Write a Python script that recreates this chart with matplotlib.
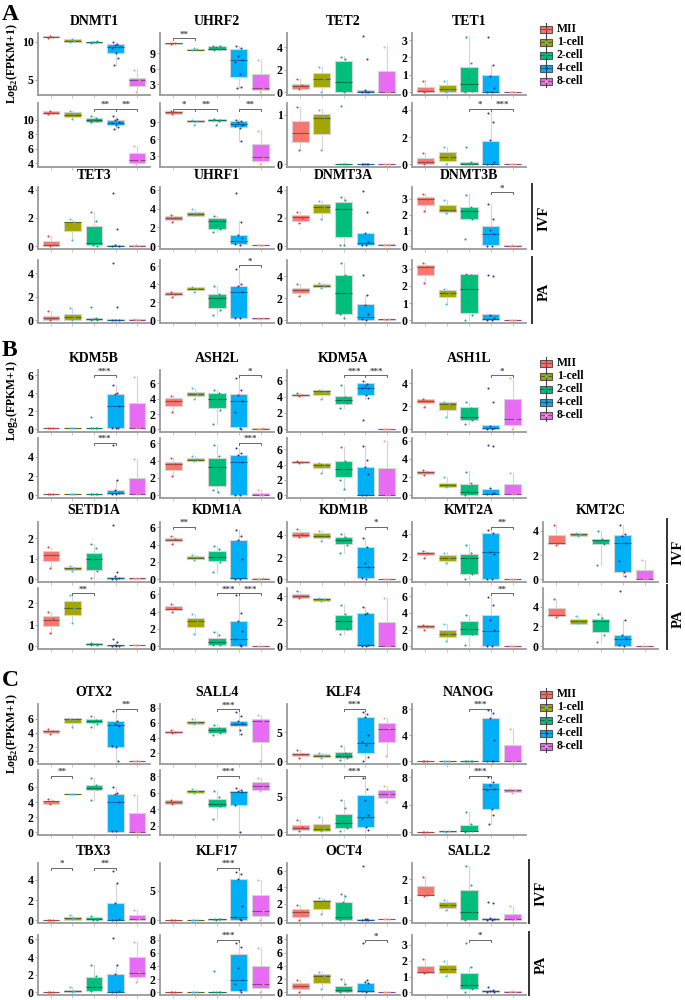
import matplotlib
matplotlib.use('Agg')
import matplotlib.pyplot as plt
import matplotlib.colors as mcolors
from matplotlib.patches import Rectangle
import numpy as np

plt.rcParams['font.family'] = ['Liberation Serif', 'DejaVu Serif']
plt.rcParams['font.weight'] = 'bold'
plt.rcParams['mathtext.fontset'] = 'custom'
plt.rcParams['mathtext.rm'] = 'Liberation Serif:bold'
plt.rcParams['mathtext.bf'] = 'Liberation Serif:bold'

GROUPS = ['MII', '1-cell', '2-cell', '4-cell', '8-cell']
FILL = ['#F8766D', '#A3A500', '#00BF7D', '#00B0F6', '#E76BF3']
DOTS = ['#E53B36', '#3CBDE6', '#15A077', '#2D3C8E', '#F5A07E']

# box = (whisker low, q1, median, q3, whisker high) per group; pts = samples per group
# sig = (group i, group j, bracket y, label)

# ---------------- A ----------------
DNMT1_IVF = dict(
    box=[(10.5, 10.55, 10.6, 10.7, 10.75), (9.9, 10.0, 10.1, 10.3, 10.3), (9.8, 9.85, 9.9, 10.0, 10.1),
         (7.0, 8.5, 9.35, 9.7, 9.9), (3.4, 4.2, 5.0, 5.3, 6.4)],
    pts=[[10.5, 10.6, 10.7], [9.9, 10.1, 10.3], [9.8, 9.9, 10.0, 10.1, 9.9],
         [9.9, 9.7, 9.6, 9.3, 9.1, 8.5, 7.8, 7.0], [6.3, 5.0, 3.4]],
    ticks=[5, 10], sig=[])
DNMT1_PA = dict(
    box=[(10.8, 10.8, 10.9, 11.1, 11.1), (10.1, 10.35, 10.6, 11.0, 11.2), (9.6, 9.7, 10.0, 10.2, 10.5),
         (8.7, 9.25, 9.5, 9.9, 10.5), (3.9, 4.1, 4.45, 5.4, 6.45)],
    pts=[[10.8, 10.9, 11.1], [11.2, 10.7, 10.1], [10.5, 10.2, 10.0, 9.8, 9.6],
         [10.5, 10.1, 9.9, 9.6, 9.5, 9.3, 9.0, 8.7], [6.4, 4.45, 3.9]],
    ticks=[4, 6, 8, 10], sig=[(3, 4, 11.5, '**'), (4, 5, 11.5, '**')])
UHRF2_IVF = dict(
    box=[(10.7, 10.7, 10.85, 11.0, 11.0), (9.5, 9.5, 9.65, 9.8, 9.9), (9.6, 9.6, 9.8, 10.4, 10.4),
         (2.3, 4.5, 7.7, 9.75, 10.4), (1.5, 1.9, 2.4, 5.0, 7.6)],
    pts=[[10.7, 10.85, 11.0], [9.5, 9.7, 9.9], [9.6, 9.8, 10.1, 10.3, 10.4],
         [10.4, 9.9, 8.5, 7.7, 7.2, 5.0, 2.6, 2.3], [7.6, 2.4, 1.5]],
    ticks=[3, 6, 9], sig=[(1, 2, 11.8, '**')])
UHRF2_PA = dict(
    box=[(10.5, 10.6, 10.8, 11.05, 11.1), (8.5, 9.05, 9.3, 9.5, 9.5), (8.5, 9.2, 9.4, 9.65, 9.7),
         (5.6, 8.2, 8.7, 9.35, 9.6), (1.5, 2.0, 2.8, 5.2, 7.6)],
    pts=[[11.0, 10.8, 10.5], [9.4, 9.2, 8.5], [9.6, 9.3, 8.5, 9.5, 9.4],
         [9.5, 9.3, 9.0, 8.6, 8.3, 8.0, 5.6], [7.5, 2.7, 1.5]],
    ticks=[3, 6, 9], sig=[(1, 2, 11.5, '*'), (2, 3, 11.5, '**'), (4, 5, 11.5, '**')])
TET2_IVF = dict(
    box=[(0.25, 0.25, 0.58, 0.74, 1.17), (0.0, 0.49, 1.17, 1.72, 2.27), (0.0, 0.05, 0.9, 2.76, 3.18),
         (0.0, 0.0, 0.05, 0.15, 0.2), (0.0, 0.0, 0.0, 1.88, 4.06)],
    pts=[[1.15, 0.6, 0.28], [2.25, 1.2, 0.0], [3.15, 2.95, 1.8, 0.9, 0.2, 0.0],
         [5.0, 2.9, 0.15, 0.05, 0.0, 0.0], [4.05, 0.0, 0.0]],
    ticks=[0, 2, 4], sig=[])
TET2_PA = dict(
    box=[(0.28, 0.44, 0.63, 0.87, 1.15), (0.28, 0.61, 0.94, 1.02, 1.11), (0.0, 0.0, 0.0, 0.01, 0.02),
         (0.0, 0.0, 0.0, 0.01, 0.02), (0.0, 0.0, 0.0, 0.01, 0.01)],
    pts=[[1.15, 0.63, 0.28], [1.1, 0.95, 0.28], [1.18, 0.0, 0.0, 0.0, 0.0],
         [0.0, 0.0, 0.0, 0.0, 0.01], [0.0, 0.0, 0.0]],
    ticks=[0, 1], sig=[])
TET1_IVF = dict(
    box=[(0.0, 0.0, 0.05, 0.3, 0.68), (0.0, 0.0, 0.2, 0.42, 0.68), (0.0, 0.0, 0.47, 1.46, 3.25),
         (0.0, 0.0, 0.0, 1.0, 1.56), (0.0, 0.0, 0.0, 0.03, 0.05)],
    pts=[[0.65, 0.05, 0.0], [0.65, 0.15, 0.0], [3.2, 1.7, 0.8, 0.05, 0.0],
         [3.2, 1.55, 0.95, 0.25, 0.0, 0.0], [0.0, 0.02, 0.0]],
    ticks=[0, 1, 2, 3], sig=[])
TET1_PA = dict(
    box=[(0.0, 0.0, 0.15, 0.47, 0.83), (0.0, 0.24, 0.52, 0.88, 1.3), (0.0, 0.0, 0.05, 0.16, 0.2),
         (0.0, 0.0, 0.0, 1.73, 3.85), (0.0, 0.0, 0.0, 0.03, 0.05)],
    pts=[[0.8, 0.15, 0.0], [1.3, 0.55, 0.0], [1.3, 0.15, 0.05, 0.0, 0.0],
         [3.8, 3.1, 1.8, 0.2, 0.0, 0.0], [0.0, 0.02, 0.0]],
    ticks=[0, 2, 4], sig=[(3, 4, 4.1, '*'), (4, 5, 4.1, '***')])
TET3_IVF = dict(
    box=[(0.0, 0.0, 0.05, 0.35, 0.7), (0.42, 1.06, 1.7, 1.72, 1.88), (0.0, 0.1, 0.24, 1.41, 2.46),
         (0.0, 0.0, 0.02, 0.1, 0.12), (0.0, 0.0, 0.02, 0.05, 0.05)],
    pts=[[0.7, 0.05, 0.0], [1.9, 1.7, 0.45], [2.45, 1.8, 0.1, 0.0],
         [3.8, 1.25, 0.05, 0.0, 0.0], [0.02, 0.0, 0.05]],
    ticks=[0, 2, 4], sig=[])
TET3_PA = dict(
    box=[(0.0, 0.0, 0.2, 0.36, 0.75), (0.0, 0.0, 0.25, 0.54, 1.05), (0.0, 0.0, 0.1, 0.2, 0.25),
         (0.0, 0.0, 0.02, 0.1, 0.12), (0.0, 0.02, 0.05, 0.1, 0.1)],
    pts=[[0.75, 0.2, 0.0], [1.05, 0.3, 0.0], [1.1, 0.2, 0.1, 0.0, 0.0],
         [4.9, 1.1, 0.05, 0.0, 0.0], [0.1, 0.05, 0.02]],
    ticks=[0, 2, 4], sig=[])
UHRF1_IVF = dict(
    box=[(2.6, 2.8, 3.0, 3.2, 3.3), (3.2, 3.2, 3.4, 3.67, 4.0), (1.47, 1.78, 2.64, 3.0, 3.2),
         (0.1, 0.24, 0.5, 1.2, 2.64), (0.05, 0.1, 0.1, 0.15, 0.15)],
    pts=[[3.3, 3.0, 2.6], [4.0, 3.5, 3.3], [3.2, 2.7, 2.3, 1.8, 1.5],
         [5.7, 2.6, 1.2, 0.9, 0.2, 0.1], [0.1, 0.12, 0.08]],
    ticks=[0, 2, 4, 6], sig=[])
UHRF1_PA = dict(
    box=[(2.54, 2.77, 2.95, 3.1, 3.2), (3.17, 3.37, 3.5, 3.67, 3.67), (0.54, 1.34, 2.44, 2.94, 3.84),
         (0.25, 0.3, 3.1, 3.77, 5.67), (0.1, 0.15, 0.2, 0.2, 0.25)],
    pts=[[3.2, 2.9, 2.55], [3.65, 3.5, 3.2], [3.8, 2.9, 2.4, 1.1, 0.55],
         [5.7, 4.05, 3.8, 3.1, 0.3, 0.25], [0.2, 0.2, 0.15]],
    ticks=[0, 2, 4, 6], sig=[(4, 5, 6.1, '*')])
DNMT3A_IVF = dict(
    box=[(1.65, 1.82, 2.05, 2.23, 2.47), (1.87, 2.36, 2.8, 2.96, 3.2), (0.05, 0.65, 2.67, 3.15, 3.52),
         (0.05, 0.05, 0.25, 0.92, 0.92), (0.05, 0.08, 0.1, 0.12, 0.12)],
    pts=[[2.45, 2.0, 1.65], [3.2, 2.8, 1.9], [3.5, 3.3, 2.6, 1.5, 0.1, 0.05],
         [3.9, 2.4, 0.9, 0.3, 0.1, 0.05], [0.1, 0.1, 0.1]],
    ticks=[0, 2, 4], sig=[])
DNMT3A_PA = dict(
    box=[(2.2, 2.47, 2.7, 2.93, 3.28), (2.9, 3.0, 3.12, 3.25, 3.35), (0.2, 0.6, 2.5, 4.1, 5.2),
         (0.05, 0.05, 0.25, 1.5, 2.27), (0.05, 0.05, 0.08, 0.1, 0.1)],
    pts=[[3.28, 2.7, 2.2], [3.35, 3.1, 2.9], [5.2, 4.1, 3.5, 2.5, 0.6, 0.2],
         [4.1, 2.3, 1.4, 0.6, 0.1, 0.05], [0.08, 0.1, 0.05]],
    ticks=[0, 2, 4], sig=[])
DNMT3B_IVF = dict(
    box=[(2.18, 2.6, 3.0, 3.14, 3.3), (2.05, 2.14, 2.3, 2.58, 2.94), (1.7, 1.75, 2.24, 2.5, 3.27),
         (0.05, 0.06, 0.76, 1.25, 2.68), (0.03, 0.05, 0.05, 0.07, 0.08)],
    pts=[[3.3, 3.0, 2.2], [2.95, 2.35, 2.1], [3.25, 2.5, 2.3, 1.75, 0.45],
         [2.65, 1.75, 1.0, 0.8, 0.05, 0.05], [0.05, 0.05, 0.06]],
    ticks=[0, 1, 2, 3], sig=[(4, 5, 3.4, '*')])
DNMT3B_PA = dict(
    box=[(2.2, 2.64, 3.1, 3.2, 3.35), (0.96, 1.38, 1.6, 1.78, 1.85), (0.0, 0.44, 1.84, 2.68, 2.7),
         (0.0, 0.0, 0.05, 0.33, 0.33), (0.0, 0.0, 0.02, 0.03, 0.03)],
    pts=[[3.35, 3.1, 2.2], [1.85, 1.6, 0.95], [2.7, 2.65, 1.0, 0.3, 0.0],
         [2.65, 2.6, 0.3, 0.1, 0.0, 0.0], [0.02, 0.0, 0.03]],
    ticks=[0, 1, 2, 3], sig=[])

# ---------------- B ----------------
KDM5B_IVF = dict(
    box=[(0.1, 0.1, 0.1, 0.12, 0.12), (0.1, 0.1, 0.1, 0.12, 0.12), (0.1, 0.1, 0.1, 0.12, 0.12),
         (0.1, 0.15, 2.58, 3.95, 4.9), (0.1, 0.1, 0.1, 2.94, 5.8)],
    pts=[[0.1, 0.1, 0.1], [0.1, 0.12, 0.1], [1.4, 0.1, 0.12, 0.1, 0.1],
         [4.9, 4.0, 3.9, 2.6, 0.2, 0.1, 0.1], [5.8, 0.1, 0.1]],
    ticks=[0, 2, 4, 6], sig=[(3, 4, 6.0, '***')])
KDM5B_PA = dict(
    box=[(0.1, 0.1, 0.1, 0.12, 0.12), (0.1, 0.1, 0.1, 0.12, 0.12), (0.1, 0.1, 0.1, 0.12, 0.12),
         (0.1, 0.1, 0.2, 0.6, 1.56), (0.1, 0.1, 0.15, 1.83, 3.74)],
    pts=[[0.1, 0.1, 0.1], [0.12, 0.1, 0.1], [0.1, 0.1, 0.12, 0.1, 0.1],
         [5.25, 1.55, 0.6, 0.2, 0.1, 0.1], [3.75, 0.15, 0.1]],
    ticks=[0, 2, 4], sig=[(3, 4, 5.4, '***')])
ASH2L_IVF = dict(
    box=[(2.33, 3.04, 3.67, 4.1, 4.43), (3.96, 4.3, 4.6, 4.94, 5.37), (0.72, 2.75, 3.97, 4.73, 5.15),
         (0.1, 0.3, 3.67, 4.6, 6.76), (0.05, 0.08, 0.1, 0.12, 0.15)],
    pts=[[4.4, 3.7, 2.3], [5.35, 4.6, 4.0], [5.15, 4.7, 4.0, 2.5, 0.7],
         [6.7, 5.1, 4.5, 3.7, 2.3, 0.2, 0.1], [0.1, 0.12, 0.08]],
    ticks=[0, 2, 4, 6], sig=[(4, 5, 7.05, '*')])
ASH2L_PA = dict(
    box=[(2.2, 2.87, 3.6, 3.8, 4.27), (4.0, 4.0, 4.1, 4.27, 4.5), (0.4, 1.1, 3.3, 4.27, 5.8),
         (0.05, 0.1, 3.8, 4.64, 5.45), (0.0, 0.0, 0.1, 0.33, 0.66)],
    pts=[[4.3, 3.6, 2.2], [4.5, 4.2, 4.0], [5.8, 4.5, 3.3, 2.9, 0.6, 0.4],
         [5.45, 4.9, 4.6, 3.8, 0.1, 0.05], [0.65, 0.1, 0.0]],
    ticks=[0, 2, 4, 6], sig=[(4, 5, 6.0, '***')])
KDM5A_IVF = dict(
    box=[(4.08, 4.08, 4.2, 4.36, 4.4), (3.69, 4.17, 4.7, 4.83, 4.9), (2.57, 3.05, 3.57, 4.05, 5.43),
         (3.76, 4.17, 5.07, 5.67, 5.95), (0.0, 0.0, 0.02, 0.03, 0.03)],
    pts=[[4.4, 4.2, 4.1], [4.8, 4.6, 3.7], [5.4, 4.0, 3.6, 3.2, 2.6],
         [5.95, 5.6, 5.3, 5.1, 5.0, 4.2, 3.8, 1.2], [0.0, 0.02, 0.0]],
    ticks=[0, 2, 4, 6], sig=[(3, 4, 6.6, '***'), (4, 5, 6.6, '***')])
KDM5A_PA = dict(
    box=[(4.15, 4.19, 4.3, 4.5, 4.5), (2.9, 3.5, 3.9, 4.19, 4.2), (0.8, 2.4, 3.38, 4.4, 6.3),
         (0.0, 0.0, 0.0, 3.74, 6.4), (0.0, 0.0, 0.0, 3.5, 7.1)],
    pts=[[4.45, 4.3, 4.15], [4.2, 3.9, 2.9], [6.3, 4.5, 3.4, 2.9, 2.0, 0.8],
         [6.4, 4.55, 3.7, 2.8, 0.0, 0.0], [7.1, 0.0, 0.0]],
    ticks=[0, 2, 4, 6], sig=[])
ASH1L_IVF = dict(
    box=[(1.97, 2.26, 2.45, 2.6, 2.6), (1.1, 1.68, 2.2, 2.35, 2.4), (0.46, 0.81, 1.04, 1.91, 2.35),
         (0.0, 0.05, 0.15, 0.35, 0.35), (0.0, 0.37, 0.87, 2.63, 4.5)],
    pts=[[2.6, 2.45, 1.97], [2.4, 2.2, 1.1], [2.35, 1.9, 1.0, 0.8, 0.46],
         [3.6, 2.4, 0.3, 0.15, 0.05, 0.0], [4.5, 0.9, 0.0]],
    ticks=[0, 2, 4], sig=[(4, 5, 4.7, '*')])
ASH1L_PA = dict(
    box=[(2.2, 2.33, 2.55, 2.68, 2.8), (0.9, 0.9, 1.1, 1.4, 2.05), (0.05, 0.05, 0.35, 1.22, 2.62),
         (0.1, 0.1, 0.15, 0.7, 0.85), (0.1, 0.1, 0.15, 1.22, 2.4)],
    pts=[[2.8, 2.6, 2.2], [2.05, 1.0, 0.9], [2.6, 1.4, 0.5, 0.2, 0.05],
         [5.55, 5.4, 0.85, 0.2, 0.1, 0.1], [2.4, 0.15, 0.1]],
    ticks=[0, 2, 4, 6], sig=[])
SETD1A_IVF = dict(
    box=[(0.55, 0.87, 1.16, 1.35, 1.53), (0.4, 0.45, 0.55, 0.6, 0.65), (0.0, 0.47, 0.99, 1.3, 1.73),
         (0.0, 0.0, 0.05, 0.12, 0.15), (0.02, 0.03, 0.05, 0.07, 0.08)],
    pts=[[1.55, 1.2, 0.55], [0.65, 0.55, 0.4], [1.7, 1.5, 1.0, 0.4, 0.05],
         [2.65, 0.35, 0.15, 0.05, 0.0, 0.0], [0.05, 0.06, 0.04]],
    ticks=[0, 1, 2], sig=[])
SETD1A_PA = dict(
    box=[(0.62, 0.92, 1.22, 1.4, 1.58), (1.1, 1.43, 1.75, 2.08, 2.38), (0.05, 0.07, 0.1, 0.14, 0.15),
         (0.0, 0.0, 0.04, 0.08, 0.2), (0.03, 0.04, 0.05, 0.06, 0.07)],
    pts=[[1.58, 1.25, 0.62], [2.38, 1.75, 1.1], [0.15, 0.1, 0.12, 0.05, 0.08],
         [0.32, 0.2, 0.05, 0.02, 0.0, 0.0], [0.05, 0.05, 0.06]],
    ticks=[0, 1, 2], sig=[(2, 3, 2.45, '**')])
KDM1A_IVF = dict(
    box=[(4.1, 4.36, 4.55, 4.76, 5.0), (2.2, 2.36, 2.5, 2.65, 2.8), (0.76, 2.1, 2.57, 3.3, 3.85),
         (0.0, 0.05, 0.15, 4.54, 5.67), (0.05, 0.08, 0.1, 0.12, 0.15)],
    pts=[[5.0, 4.6, 4.1], [2.8, 2.6, 2.2], [3.85, 3.5, 2.6, 2.0, 0.8],
         [5.65, 5.0, 4.5, 2.3, 0.1, 0.05], [0.1, 0.12, 0.08]],
    ticks=[0, 2, 4, 6], sig=[(1, 2, 6.0, '**')])
KDM1A_PA = dict(
    box=[(3.93, 4.16, 4.35, 4.6, 4.9), (1.43, 2.17, 2.92, 3.3, 3.74), (0.1, 0.19, 0.5, 0.94, 1.72),
         (0.0, 0.05, 0.79, 2.92, 5.84), (0.03, 0.04, 0.05, 0.06, 0.07)],
    pts=[[4.9, 4.4, 3.95], [3.75, 2.9, 1.45], [1.7, 1.3, 0.5, 0.2, 0.1],
         [5.85, 3.85, 2.9, 1.8, 0.8, 0.1, 0.0], [0.05, 0.05, 0.06]],
    ticks=[0, 2, 4, 6], sig=[(3, 4, 6.1, '***'), (4, 5, 6.1, '***')])
KDM1B_IVF = dict(
    box=[(3.85, 3.86, 4.0, 4.23, 4.5), (3.5, 3.72, 3.95, 4.14, 4.35), (2.35, 3.23, 3.55, 3.78, 4.15),
         (0.05, 0.1, 1.14, 2.94, 3.72), (0.03, 0.04, 0.05, 0.06, 0.07)],
    pts=[[4.5, 4.1, 3.85], [4.35, 4.0, 3.5], [4.1, 3.8, 3.5, 3.1, 2.35],
         [3.7, 2.9, 1.5, 1.1, 0.1, 0.05], [0.05, 0.05, 0.06]],
    ticks=[0, 2, 4], sig=[(4, 5, 4.7, '*')])
KDM1B_PA = dict(
    box=[(3.85, 3.86, 4.0, 4.19, 4.45), (3.65, 3.66, 3.78, 3.86, 3.9), (0.96, 1.27, 2.03, 2.53, 3.3),
         (0.0, 0.0, 0.1, 2.67, 3.15), (0.0, 0.0, 0.0, 1.97, 3.86)],
    pts=[[4.45, 4.05, 3.85], [3.9, 3.8, 3.65], [3.3, 2.6, 2.0, 1.4, 1.0],
         [3.15, 2.7, 2.6, 0.1, 0.0, 0.0], [3.85, 0.0, 0.0]],
    ticks=[0, 2, 4], sig=[])
KMT2A_IVF = dict(
    box=[(1.85, 2.1, 2.3, 2.4, 2.45), (1.4, 1.63, 1.9, 2.1, 2.37), (0.0, 0.43, 1.9, 2.26, 3.07),
         (0.05, 0.05, 2.4, 4.06, 4.35), (0.03, 0.04, 0.05, 0.06, 0.07)],
    pts=[[2.45, 2.3, 1.85], [2.35, 1.9, 1.4], [3.05, 2.3, 1.9, 0.5, 0.0],
         [4.35, 4.1, 2.4, 2.2, 0.05, 0.05], [0.05, 0.05, 0.06]],
    ticks=[0, 2, 4], sig=[(4, 5, 4.58, '**')])
KMT2A_PA = dict(
    box=[(2.0, 2.24, 2.4, 2.55, 2.6), (0.6, 1.06, 1.5, 1.96, 2.7), (0.1, 1.37, 2.08, 3.06, 3.8),
         (0.05, 0.05, 1.88, 3.73, 5.9), (0.03, 0.04, 0.05, 0.06, 0.07)],
    pts=[[2.6, 2.4, 2.0], [2.7, 1.45, 0.6], [3.75, 2.7, 2.1, 1.5, 0.2],
         [5.9, 4.9, 3.2, 1.9, 0.1, 0.05], [0.05, 0.05, 0.06]],
    ticks=[0, 2, 4, 6], sig=[(4, 5, 6.35, '**')])
KMT2C_IVF = dict(
    box=[(2.85, 2.92, 3.0, 3.66, 4.45), (3.57, 3.57, 3.7, 3.8, 3.85), (1.17, 2.92, 3.2, 3.36, 4.0),
         (0.25, 0.59, 2.98, 3.66, 4.5), (0.0, 0.0, 0.0, 0.73, 1.6)],
    pts=[[4.45, 3.0, 2.85], [3.85, 3.75, 3.6], [4.0, 3.3, 3.1, 2.9, 1.2],
         [4.5, 3.7, 3.6, 3.0, 1.5, 0.6, 0.3], [1.6, 0.05, 0.0]],
    ticks=[0, 2, 4], sig=[])
KMT2C_PA = dict(
    box=[(3.0, 3.09, 3.2, 3.9, 4.78), (2.25, 2.27, 2.5, 2.7, 3.1), (0.4, 1.46, 2.54, 2.76, 3.3),
         (0.0, 0.0, 0.72, 1.13, 2.6), (0.0, 0.0, 0.02, 0.04, 0.05)],
    pts=[[4.75, 3.2, 3.0], [3.05, 2.4, 2.3], [3.3, 2.9, 2.5, 1.1, 0.4],
         [5.6, 2.6, 1.1, 0.8, 0.1, 0.0], [0.02, 0.0, 0.04]],
    ticks=[0, 2, 4], sig=[])

# ---------------- C ----------------
OTX2_IVF = dict(
    box=[(3.78, 4.0, 4.2, 4.36, 4.5), (4.73, 5.33, 5.9, 6.1, 6.1), (4.73, 5.33, 5.6, 5.9, 6.3),
         (0.0, 2.0, 5.1, 5.7, 7.1), (0.05, 0.08, 0.1, 0.12, 0.15)],
    pts=[[4.5, 4.2, 3.8], [6.0, 5.8, 4.75], [6.3, 5.8, 5.5, 5.2, 4.8],
         [7.1, 5.6, 5.2, 5.0, 2.2, 2.0, 0.1], [0.1, 0.12, 0.08]],
    ticks=[0, 2, 4, 6], sig=[(4, 5, 7.3, '**')])
OTX2_PA = dict(
    box=[(3.75, 3.8, 4.1, 4.2, 4.4), (5.0, 5.0, 5.02, 5.05, 5.05), (4.3, 5.56, 5.9, 6.26, 7.2),
         (0.07, 0.07, 3.94, 5.04, 5.98), (0.0, 0.02, 0.05, 2.5, 4.95)],
    pts=[[4.4, 4.1, 3.75], [5.05, 5.0, 5.0], [7.2, 6.3, 6.0, 5.7, 4.3],
         [6.0, 5.2, 5.1, 4.0, 0.2, 0.1], [4.95, 0.05, 0.0]],
    ticks=[0, 2, 4, 6], sig=[(1, 2, 7.5, '**')])
SALL4_IVF = dict(
    box=[(4.6, 4.62, 4.8, 4.92, 5.2), (5.88, 5.88, 6.1, 6.3, 6.6), (4.45, 4.62, 5.0, 5.46, 5.8),
         (4.45, 5.59, 5.9, 6.3, 7.55), (0.88, 3.5, 6.2, 6.5, 7.0)],
    pts=[[5.1, 4.8, 4.6], [6.5, 6.1, 5.9], [5.75, 5.3, 5.0, 4.7, 4.45],
         [7.5, 6.9, 6.2, 6.0, 5.8, 5.0, 4.5], [7.0, 6.2, 0.9]],
    ticks=[2, 4, 6, 8], sig=[(3, 4, 7.8, '***')])
SALL4_PA = dict(
    box=[(4.7, 4.7, 4.9, 5.1, 5.2), (6.05, 6.05, 6.25, 6.42, 6.5), (2.8, 4.36, 4.7, 5.3, 6.25),
         (1.25, 4.6, 6.1, 6.27, 6.65), (6.2, 6.4, 6.8, 7.3, 7.8)],
    pts=[[5.2, 4.9, 4.7], [6.5, 6.2, 6.05], [6.2, 5.5, 4.6, 4.4, 2.8],
         [6.65, 6.4, 6.2, 6.1, 4.6, 1.25], [7.8, 6.7, 6.3]],
    ticks=[2, 4, 6, 8], sig=[(3, 4, 8.1, '***')])
KLF4_IVF = dict(
    box=[(0.5, 0.95, 1.2, 1.48, 2.0), (0.65, 0.7, 0.9, 1.21, 1.5), (0.2, 0.6, 1.0, 1.69, 2.6),
         (0.05, 1.42, 3.15, 7.73, 8.67), (1.0, 3.42, 5.63, 6.58, 7.4)],
    pts=[[1.9, 1.2, 0.5], [1.5, 0.9, 0.65], [2.6, 1.5, 0.9, 0.6, 0.2],
         [8.6, 8.15, 7.7, 4.5, 3.3, 2.9, 0.8, 0.05], [7.4, 5.7, 1.0]],
    ticks=[0, 5], sig=[(3, 4, 9.0, '***')])
KLF4_PA = dict(
    box=[(0.2, 0.32, 0.64, 1.02, 1.72), (0.1, 0.1, 0.4, 1.12, 2.2), (0.1, 0.56, 1.26, 2.57, 4.53),
         (0.0, 0.79, 2.1, 5.23, 7.57), (4.3, 4.85, 5.4, 5.93, 6.53)],
    pts=[[1.7, 0.7, 0.2], [2.2, 0.5, 0.1], [4.5, 3.4, 1.5, 0.6, 0.1],
         [7.6, 6.1, 4.5, 2.4, 2.0, 0.8, 0.3], [6.5, 5.4, 4.3]],
    ticks=[0, 5], sig=[(3, 4, 8.0, '***')])
NANOG_IVF = dict(
    box=[(0.0, 0.02, 0.05, 0.07, 0.08), (0.0, 0.02, 0.05, 0.07, 0.08), (0.0, 0.02, 0.05, 0.07, 0.08),
         (0.0, 0.0, 0.05, 6.7, 7.85), (0.0, 0.0, 0.1, 2.55, 5.0)],
    pts=[[0.05, 0.05, 0.05], [0.05, 0.06, 0.04], [0.08, 0.05, 0.05, 0.04, 0.06],
         [7.85, 7.35, 6.7, 3.3, 0.1, 0.0, 0.0], [5.0, 0.1, 0.0]],
    ticks=[0, 4, 8], sig=[(3, 4, 8.0, '***')])
NANOG_PA = dict(
    box=[(0.0, 0.02, 0.05, 0.07, 0.08), (0.05, 0.05, 0.1, 0.2, 0.2), (0.05, 0.1, 0.2, 1.0, 3.0),
         (1.25, 3.4, 6.24, 7.24, 8.0), (5.7, 5.84, 6.1, 6.24, 6.3)],
    pts=[[0.05, 0.05, 0.05], [0.2, 0.1, 0.05], [3.0, 1.2, 0.2, 0.1, 0.05],
         [8.0, 7.3, 6.9, 6.3, 6.1, 3.4, 2.5, 1.25], [6.3, 6.1, 5.7]],
    ticks=[0, 4, 8], sig=[(3, 4, 8.25, '***')])
TBX3_IVF = dict(
    box=[(0.0, 0.0, 0.02, 0.05, 0.05), (0.07, 0.07, 0.2, 0.32, 0.55), (0.0, 0.0, 0.15, 0.3, 0.4),
         (0.0, 0.0, 0.0, 1.7, 3.68), (0.05, 0.05, 0.1, 0.56, 1.0)],
    pts=[[0.05, 0.0, 0.0], [0.55, 0.2, 0.1], [0.4, 0.15, 0.05, 0.0],
         [4.9, 3.7, 1.7, 0.1, 0.0, 0.0], [1.0, 0.15, 0.05]],
    ticks=[0, 2, 4], sig=[(1, 2, 5.15, '*'), (3, 4, 5.15, '**')])
TBX3_PA = dict(
    box=[(0.0, 0.0, 0.02, 0.04, 0.05), (0.05, 0.05, 0.1, 0.3, 0.6), (0.1, 0.1, 0.6, 1.69, 3.06),
         (0.0, 0.0, 0.05, 2.08, 3.06), (1.17, 1.69, 2.2, 3.96, 5.73)],
    pts=[[0.02, 0.0, 0.04], [0.6, 0.2, 0.05], [3.05, 1.9, 1.2, 0.6, 0.1],
         [6.2, 3.05, 2.1, 0.1, 0.05, 0.0], [5.75, 2.25, 1.2]],
    ticks=[0, 2, 4, 6], sig=[])
KLF17_IVF = dict(
    box=[(0.0, 0.0, 0.02, 0.05, 0.05), (0.0, 0.0, 0.02, 0.05, 0.05), (0.1, 0.1, 0.15, 0.2, 0.2),
         (0.0, 0.1, 0.6, 6.9, 8.1), (0.0, 0.7, 1.6, 4.2, 6.7)],
    pts=[[0.02, 0.0, 0.05], [0.02, 0.05, 0.0], [0.2, 0.15, 0.1, 0.15],
         [8.1, 7.7, 6.9, 2.4, 0.6, 0.2, 0.0], [6.7, 1.6, 0.0]],
    ticks=[0, 5], sig=[(3, 4, 8.75, '***')])
KLF17_PA = dict(
    box=[(0.0, 0.0, 0.02, 0.05, 0.05), (0.05, 0.05, 0.08, 0.1, 0.1), (0.05, 0.05, 0.06, 0.08, 0.08),
         (0.1, 0.2, 1.9, 5.86, 7.5), (0.0, 0.62, 1.24, 3.95, 6.8)],
    pts=[[0.02, 0.0, 0.05], [0.1, 0.08, 0.05], [3.24, 0.05, 0.06, 0.05, 0.07],
         [7.5, 6.9, 3.7, 1.9, 1.2, 0.3, 0.1], [6.8, 1.3, 0.0]],
    ticks=[0, 2, 4, 6, 8], sig=[(3, 4, 7.9, '***')])
OCT4_IVF = dict(
    box=[(0.0, 0.43, 0.95, 1.37, 1.8), (0.7, 1.41, 2.35, 2.48, 2.65), (0.0, 0.0, 0.34, 2.2, 3.2),
         (0.0, 0.0, 0.05, 0.1, 0.15), (0.1, 0.1, 0.15, 0.2, 0.2)],
    pts=[[1.8, 1.0, 0.0], [2.65, 2.4, 0.7], [3.2, 2.9, 2.2, 0.4, 0.0],
         [6.6, 0.15, 0.1, 0.05, 0.0, 0.0], [0.2, 0.15, 0.1]],
    ticks=[0, 2, 4, 6], sig=[])
OCT4_PA = dict(
    box=[(0.1, 0.52, 1.0, 1.47, 1.9), (0.5, 1.43, 2.5, 2.76, 3.0), (0.0, 0.05, 0.3, 1.0, 2.0),
         (0.05, 0.05, 0.15, 1.47, 1.8), (0.03, 0.04, 0.05, 0.06, 0.07)],
    pts=[[1.9, 1.0, 0.1], [3.0, 2.5, 0.5], [2.0, 1.2, 0.4, 0.2, 0.0],
         [7.5, 1.8, 1.5, 1.4, 0.2, 0.1], [0.05, 0.05, 0.06]],
    ticks=[0, 2, 4, 6, 8], sig=[(4, 5, 7.85, '*')])
SALL2_IVF = dict(
    box=[(1.2, 1.22, 1.25, 1.65, 2.1), (0.5, 0.61, 0.75, 0.87, 1.0), (0.0, 0.0, 0.38, 1.45, 2.65),
         (0.0, 0.02, 0.05, 0.1, 0.12), (0.0, 0.02, 0.05, 0.3, 0.7)],
    pts=[[2.1, 1.25, 1.2], [1.0, 0.75, 0.5], [2.65, 1.7, 0.8, 0.4, 0.0],
         [0.9, 0.85, 0.1, 0.05, 0.0, 0.0], [0.7, 0.05, 0.0]],
    ticks=[0, 1, 2], sig=[])
SALL2_PA = dict(
    box=[(1.25, 1.25, 1.3, 1.66, 2.13), (1.07, 1.25, 1.46, 1.72, 2.03), (0.05, 0.24, 0.44, 1.25, 1.6),
         (0.05, 0.05, 0.1, 0.15, 0.15), (0.03, 0.04, 0.05, 0.06, 0.07)],
    pts=[[2.1, 1.3, 1.25], [2.0, 1.45, 1.05], [3.15, 1.6, 0.45, 0.2, 0.05],
         [0.35, 0.15, 0.1, 0.05, 0.05], [0.05, 0.05, 0.06]],
    ticks=[0, 1, 2, 3], sig=[(3, 4, 3.3, '*')])

GENES = {
    'DNMT1': (DNMT1_IVF, DNMT1_PA), 'UHRF2': (UHRF2_IVF, UHRF2_PA), 'TET2': (TET2_IVF, TET2_PA),
    'TET1': (TET1_IVF, TET1_PA), 'TET3': (TET3_IVF, TET3_PA), 'UHRF1': (UHRF1_IVF, UHRF1_PA),
    'DNMT3A': (DNMT3A_IVF, DNMT3A_PA), 'DNMT3B': (DNMT3B_IVF, DNMT3B_PA),
    'KDM5B': (KDM5B_IVF, KDM5B_PA), 'ASH2L': (ASH2L_IVF, ASH2L_PA), 'KDM5A': (KDM5A_IVF, KDM5A_PA),
    'ASH1L': (ASH1L_IVF, ASH1L_PA), 'SETD1A': (SETD1A_IVF, SETD1A_PA), 'KDM1A': (KDM1A_IVF, KDM1A_PA),
    'KDM1B': (KDM1B_IVF, KDM1B_PA), 'KMT2A': (KMT2A_IVF, KMT2A_PA), 'KMT2C': (KMT2C_IVF, KMT2C_PA),
    'OTX2': (OTX2_IVF, OTX2_PA), 'SALL4': (SALL4_IVF, SALL4_PA), 'KLF4': (KLF4_IVF, KLF4_PA),
    'NANOG': (NANOG_IVF, NANOG_PA), 'TBX3': (TBX3_IVF, TBX3_PA), 'KLF17': (KLF17_IVF, KLF17_PA),
    'OCT4': (OCT4_IVF, OCT4_PA), 'SALL2': (SALL2_IVF, SALL2_PA),
}

# ---------------- layout (pixels) ----------------
W, H = 685, 1000
COLS = [(38, 150), (160, 274), (287, 400), (412, 526), (543, 658)]
SECTIONS = [
    dict(letter='A', ly=14, rows=[(33, 95), (103, 167), (187, 249), (260, 323)],
         top=['DNMT1', 'UHRF2', 'TET2', 'TET1'], bottom=['TET3', 'UHRF1', 'DNMT3A', 'DNMT3B'],
         leg_y=29, bar_x=532, lab_x=544),
    dict(letter='B', ly=350, rows=[(370, 432), (438, 498), (522, 582), (588, 649)],
         top=['KDM5B', 'ASH2L', 'KDM5A', 'ASH1L'], bottom=['SETD1A', 'KDM1A', 'KDM1B', 'KMT2A', 'KMT2C'],
         leg_y=363, bar_x=667, lab_x=678),
    dict(letter='C', ly=681, rows=[(704, 764), (770, 835), (863, 923), (935, 995)],
         top=['OTX2', 'SALL4', 'KLF4', 'NANOG'], bottom=['TBX3', 'KLF17', 'OCT4', 'SALL2'],
         leg_y=694, bar_x=529, lab_x=541),
]
JITTER = np.array([-0.12, 0.09, -0.03, 0.14, -0.16, 0.04, 0.11, -0.08])

fig = plt.figure(figsize=(W / 100, H / 100), dpi=100)


def darken(c, f=0.62):
    r, g, b = mcolors.to_rgb(c)
    return (r * f, g * f, b * f)


def px_axes(col, row):
    (x0, x1), (y0, y1) = col, row
    return fig.add_axes([x0 / W, 1 - y1 / H, (x1 - x0) / W, (y1 - y0) / H])


def draw_panel(ax, p, title=None):
    stats = [dict(whislo=b[0], q1=b[1], med=b[2], q3=b[3], whishi=b[4], fliers=[]) for b in p['box']]
    bp = ax.bxp(stats, positions=range(1, 6), widths=0.78, patch_artist=True, showcaps=False,
                boxprops=dict(edgecolor='#d4d4d4', linewidth=0.8),
                whiskerprops=dict(color='#d4d4d4', linewidth=0.8),
                medianprops=dict(linewidth=0.8))
    for patch, med, c in zip(bp['boxes'], bp['medians'], FILL):
        patch.set_facecolor(c)
        med.set_color(darken(c))
    for i, vals in enumerate(p['pts']):
        ax.scatter(i + 1 + JITTER[:len(vals)], vals, s=2.2, color=DOTS[i], linewidths=0, zorder=4)

    allv = [v for b in p['box'] for v in b] + [v for g in p['pts'] for v in g]
    allv += [s[2] for s in p['sig']] + list(p['ticks'])
    lo, hi = min(allv), max(allv)
    r = hi - lo
    top = hi + 0.05 * r
    if p['sig']:
        top = max(top, max(s[2] for s in p['sig']) + 0.1 * r)
    ax.set_ylim(lo - 0.05 * r, top)
    ax.set_xlim(0.4, 5.6)
    for i, j, y, lab in p['sig']:
        t = 0.035 * r
        ax.plot([i, i, j, j], [y - t, y, y, y - t], color='#666666', lw=0.7, clip_on=False)
        ax.text((i + j) / 2, y, lab, ha='center', va='bottom', fontsize=6.5,
                color='#4a4a4a', clip_on=False)

    ax.set_yticks(p['ticks'])
    ax.set_xticks(range(1, 6))
    ax.set_xticklabels([])
    ax.tick_params(axis='y', labelsize=8.5, length=2, width=0.6, color='#999999', pad=1.2)
    ax.tick_params(axis='x', length=2, width=0.6, color='#bbbbbb')
    for lbl in ax.get_yticklabels():
        lbl.set_fontweight('bold')
    for s in ['top', 'right']:
        ax.spines[s].set_visible(False)
    for s in ['left', 'bottom']:
        ax.spines[s].set_color('#9a9a9a')
        ax.spines[s].set_linewidth(1.3)
    if title:
        ax.set_title(title, fontsize=10, fontweight='bold', pad=6)


for sec in SECTIONS:
    rows = sec['rows']
    for k, gene in enumerate(sec['top']):
        ivf, pa = GENES[gene]
        draw_panel(px_axes(COLS[k], rows[0]), ivf, gene)
        draw_panel(px_axes(COLS[k], rows[1]), pa)
    for k, gene in enumerate(sec['bottom']):
        ivf, pa = GENES[gene]
        draw_panel(px_axes(COLS[k], rows[2]), ivf, gene)
        draw_panel(px_axes(COLS[k], rows[3]), pa)

# overlay in pixel coordinates for letters, labels, legends and IVF/PA bars
ov = fig.add_axes([0, 0, 1, 1])
ov.set_xlim(0, W)
ov.set_ylim(H, 0)
ov.axis('off')

for sec in SECTIONS:
    rows = sec['rows']
    ov.text(2, sec['ly'], sec['letter'], fontsize=17, fontweight='bold', va='center', ha='left')
    ov.text(12, (rows[0][0] + rows[0][1]) / 2, 'Log$_{2}$(FPKM+1)', rotation=90, fontsize=8.5,
            fontweight='bold', va='center', ha='center')
    for g, name in enumerate(GROUPS):
        yc = sec['leg_y'] + g * 13
        ov.plot([546, 546], [yc - 6, yc + 6], color='#444444', lw=0.8)
        ov.add_patch(Rectangle((540, yc - 3.5), 12, 7, facecolor=FILL[g], edgecolor='#555555', lw=0.8))
        ov.plot([540, 552], [yc, yc], color=darken(FILL[g]), lw=0.8)
        ov.scatter([546], [yc], s=5, color=DOTS[g], linewidths=0, zorder=5)
        ov.text(557, yc, name, fontsize=8.5, fontweight='bold', va='center', ha='left')
    for (y0, y1), lab in zip(rows[2:], ['IVF', 'PA']):
        ov.plot([sec['bar_x'], sec['bar_x']], [y0 - 3, y1], color='#333333', lw=1.4)
        ov.text(sec['lab_x'], (y0 + y1) / 2, lab, rotation=90, fontsize=10.5, fontweight='bold',
                va='center', ha='center')

fig.savefig('out.png', dpi=100)
